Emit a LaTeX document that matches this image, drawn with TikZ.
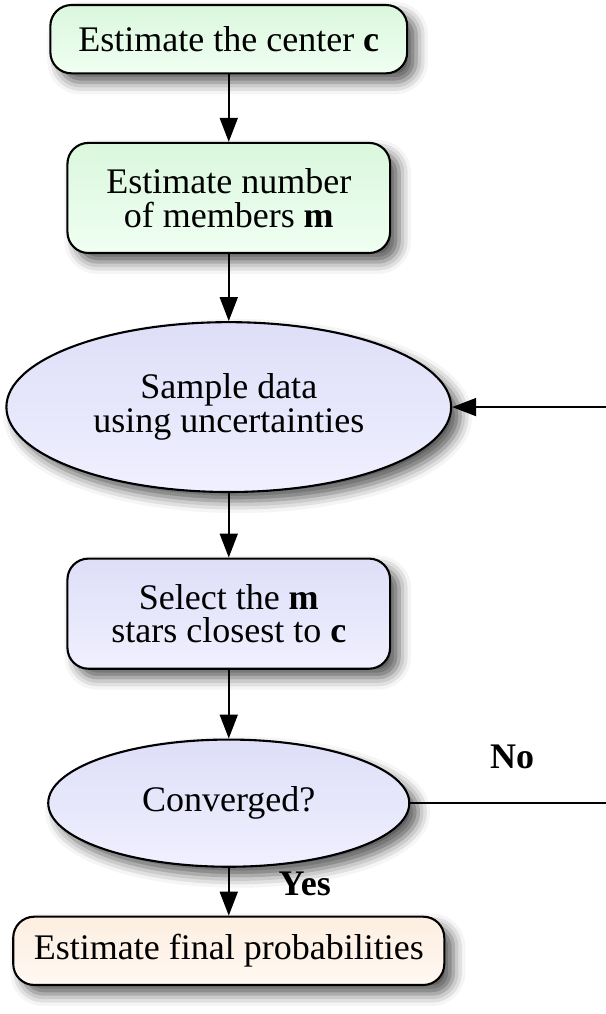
\documentclass[tikz,border=0pt]{standalone}
\usepackage{fontspec}
\setmainfont{Liberation Serif}
\usepackage{tikz}
\usetikzlibrary{positioning,arrows.meta,shapes.geometric,shadows.blur}
\definecolor{flowGreenTop}{RGB}{218, 247, 221}
\definecolor{flowGreenBot}{RGB}{240, 255, 242}
\definecolor{flowBlueTop}{RGB}{222, 222, 248}
\definecolor{flowBlueBot}{RGB}{240, 240, 255}
\definecolor{flowOrangeTop}{RGB}{253, 238, 224}
\definecolor{flowOrangeBot}{RGB}{255, 248, 242}

\begin{document}
\begin{tikzpicture}[
  x=1cm,y=1cm,
  every node/.style={align=center, font=\fontsize{12}{11.2}\selectfont},
  card/.style={rectangle, rounded corners=7pt, draw=black, line width=.7pt, inner sep=2pt,
    blur shadow={shadow xshift=3pt, shadow yshift=-3pt, shadow blur radius=4pt, shadow opacity=65}},
  oval/.style={ellipse, draw=black, line width=.7pt, inner sep=0pt,
    blur shadow={shadow xshift=3pt, shadow yshift=-3pt, shadow blur radius=4pt, shadow opacity=65}},
  lbl/.style={font=\fontsize{12}{14}\selectfont\bfseries},
  flow/.style={line width=.6pt, -{Triangle[length=8pt,width=6pt]}}
]
\path[use as bounding box] (0,0) rectangle (7.099,11.879);

\node[card, top color=flowGreenTop, bottom color=flowGreenBot,
  minimum width=4.18cm, minimum height=.80cm] (center) at (2.68,11.42)
  {Estimate the center \textbf{c}};
\node[card, top color=flowGreenTop, bottom color=flowGreenBot,
  minimum width=3.78cm, minimum height=1.29cm] (members) at (2.68,9.56)
  {Estimate number\\of members \textbf{m}};
\node[oval, top color=flowBlueTop, bottom color=flowBlueBot,
  minimum width=5.21cm, minimum height=1.99cm] (sample) at (2.68,7.11)
  {Sample data\\using uncertainties};
\node[card, top color=flowBlueTop, bottom color=flowBlueBot,
  minimum width=3.78cm, minimum height=1.29cm] (select) at (2.68,4.69)
  {Select the \textbf{m}\\stars closest to \textbf{c}};
\node[oval, top color=flowBlueTop, bottom color=flowBlueBot,
  minimum width=4.23cm, minimum height=1.49cm] (conv) at (2.68,2.47)
  {Converged?};
\node[card, top color=flowOrangeTop, bottom color=flowOrangeBot,
  minimum width=5.05cm, minimum height=.80cm] (final) at (2.68,.74)
  {Estimate final probabilities};

\draw[flow] (center) -- (members);
\draw[flow] (members) -- (sample);
\draw[flow] (sample) -- (select);
\draw[flow] (select) -- (conv);
\draw[flow] (conv) -- (final);

% loop back, cut at the page edge
\coordinate (noend) at (7.099,2.47);
\coordinate (loopin) at (7.099,7.11);
\draw[line width=.6pt] (conv.east) -- (noend);
\draw[flow] (loopin) -- (sample.east);

\node[lbl] (no) at (6.00,3.01) {No};
\node[lbl] (yes) at (3.57,1.52) {Yes};
\end{tikzpicture}
\end{document}
